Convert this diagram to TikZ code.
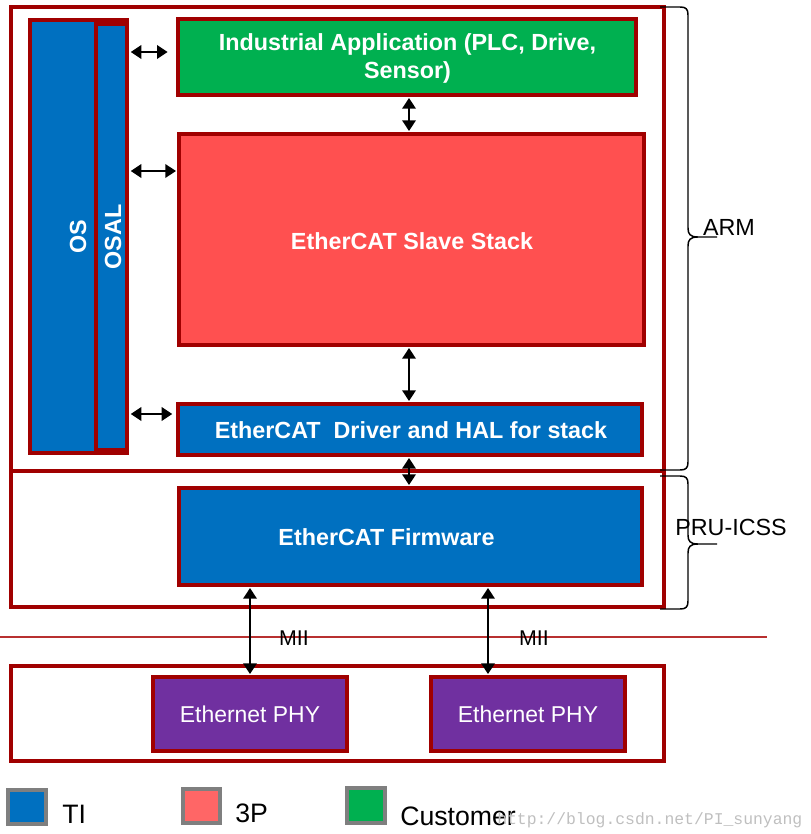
\documentclass[tikz,border=0pt]{standalone}
\usepackage{fontspec}
\setmainfont{Liberation Sans}
\setmonofont{Liberation Mono}
\usetikzlibrary{arrows.meta,fit}
\definecolor{tiblue}{HTML}{0070C0}
\definecolor{stackred}{HTML}{FF5050}
\definecolor{custgreen}{HTML}{00B050}
\definecolor{phypurple}{HTML}{7030A0}
\definecolor{bord}{HTML}{A00000}
\definecolor{legred}{HTML}{FF6666}
\definecolor{leggray}{HTML}{7F7F7F}
\definecolor{linered}{HTML}{B83030}
\begin{document}
\begin{tikzpicture}[x=0.75pt,y=-0.75pt,
  frame/.style={draw=bord, line width=2.4pt, inner sep=0pt},
  box/.style={draw=bord, line width=2.5pt, inner sep=0pt},
  btext/.style={text=white, inner sep=0pt, align=center, font=\bfseries\fontsize{17.5}{21}\selectfont},
  phy/.style={draw=bord, line width=2.5pt, inner sep=0pt, fill=phypurple},
  phytext/.style={text=white, inner sep=0pt, font=\fontsize{17.2}{20}\selectfont},
  arr/.style={{Triangle[length=8pt,width=10pt]}-{Triangle[length=8pt,width=10pt]}, line width=1.8pt, black},
  brc/.style={draw=black, line width=1.1pt},
  side/.style={inner sep=0pt, font=\fontsize{17.5}{21}\selectfont},
  mii/.style={inner sep=0pt, font=\fontsize{16}{19}\selectfont},
  leg/.style={draw=leggray, line width=3pt, inner sep=0pt},
  legtext/.style={inner sep=0pt, anchor=base west, font=\fontsize{20}{24}\selectfont}
]
\useasboundingbox (0,0) rectangle (810,834);

% frames
\node[frame, fit={(11,7)(664,471)}] (arm) {};
\node[frame, fit={(11,471)(664,607)}] (pru) {};
\node[frame, fit={(11,666)(664,761)}] (phyframe) {};

% separator line
\draw[linered, line width=1pt] (0,637) -- (767,637);

% OS / OSAL
\node[box, fill=tiblue, fit={(30,20)(127,453)}] (os) {};
\node[box, fill=tiblue, fit={(96,24)(127,450)}] (osal) {};
\node[btext, rotate=90] (ostext) at (78,237) {OS};
\node[btext, rotate=90] (osaltext) at (113,237) {OSAL};

% main boxes
\node[box, fill=custgreen, fit={(178,19)(636,95)}] (app) {};
\node[btext] (apptext) at (407.5,58) {Industrial Application (PLC, Drive,\\Sensor)};
\node[box, fill=stackred, fit={(179,134)(644,345)}] (slave) {};
\node[btext] (slavetext) at (412,241) {EtherCAT Slave Stack};
\node[box, fill=tiblue, fit={(178,404)(642,455)}] (drv) {};
\node[btext] (drvtext) at (411,430) {EtherCAT\ \ Driver and HAL for stack};
\node[box, fill=tiblue, fit={(179,488)(642,585)}] (fw) {};
\node[btext] (fwtext) at (386.5,537) {EtherCAT Firmware};

% PHY
\node[phy, fit={(153,677)(347,751)}] (phy1) {};
\node[phytext] (phy1text) at (250,714) {Ethernet PHY};
\node[phy, fit={(431,677)(625,751)}] (phy2) {};
\node[phytext] (phy2text) at (528,714) {Ethernet PHY};

% helper coordinates
\coordinate (yA) at (0,52);
\coordinate (yB) at (0,171);
\coordinate (yC) at (0,414);
\coordinate (xV) at (409,0);
\coordinate (xM1) at (250,0);
\coordinate (xM2) at (488,0);

% arrows
\draw[arr] ([xshift=1.5pt]os.east |- yA) -- ([xshift=-6.5pt]app.west |- yA);
\draw[arr] ([xshift=1.5pt]os.east |- yB) -- ([xshift=-1pt]slave.west |- yB);
\draw[arr] ([xshift=1.5pt]os.east |- yC) -- ([xshift=-3pt]drv.west |- yC);
\draw[arr] ([yshift=-1pt]app.south -| xV) -- ([yshift=1pt]slave.north -| xV);
\draw[arr] ([yshift=-1pt]slave.south -| xV) -- ([yshift=1pt]drv.north -| xV);
\draw[arr] ([yshift=-1pt]drv.south -| xV) -- ([yshift=1pt]fw.north -| xV);
\draw[arr] ([yshift=-1pt]fw.south -| xM1) -- ([yshift=1pt]phy1.north -| xM1);
\draw[arr] ([yshift=-1pt]fw.south -| xM2) -- ([yshift=1pt]phy2.north -| xM2);

\node[mii] (mii1) at (294,638) {MII};
\node[mii] (mii2) at (534,638) {MII};

% braces
\draw[brc] (660,7) -- (680,7) .. controls (686,7) and (688,9) .. (688,15)
  -- (688,228) .. controls (688,234) and (690,237) .. (698,237) -- (717,237)
  -- (698,237) .. controls (690,237) and (688,240) .. (688,246)
  -- (688,462) .. controls (688,468) and (686,470) .. (680,470) -- (660,470);
\draw[brc] (660,476) -- (680,476) .. controls (686,476) and (688,478) .. (688,484)
  -- (688,535) .. controls (688,541) and (690,544) .. (698,544) -- (717,544)
  -- (698,544) .. controls (690,544) and (688,547) .. (688,553)
  -- (688,601) .. controls (688,607) and (686,609) .. (680,609) -- (660,609);
\node[side] (armlabel) at (729,227) {ARM};
\node[side] (prulabel) at (731,527) {PRU-ICSS};

% legend
\node[leg, fill=tiblue, fit={(8,790)(46,824)}] (legti) {};
\node[leg, fill=legred, fit={(183,789)(220,823)}] (leg3p) {};
\node[leg, fill=custgreen, fit={(347,788)(385,823)}] (legcust) {};
\node[legtext] (tilabel) at (62,823) {TI};
\node[legtext] (p3label) at (235,822) {3P};
\node[legtext] (custlabel) at (400,825) {Customer};

% watermark
\node[inner sep=0pt, anchor=base west, text=black!25, font=\ttfamily\fontsize{12.3}{14}\selectfont] (wm) at (497,824) {http://blog.csdn.net/PI\_sunyang};
\end{tikzpicture}
\end{document}
